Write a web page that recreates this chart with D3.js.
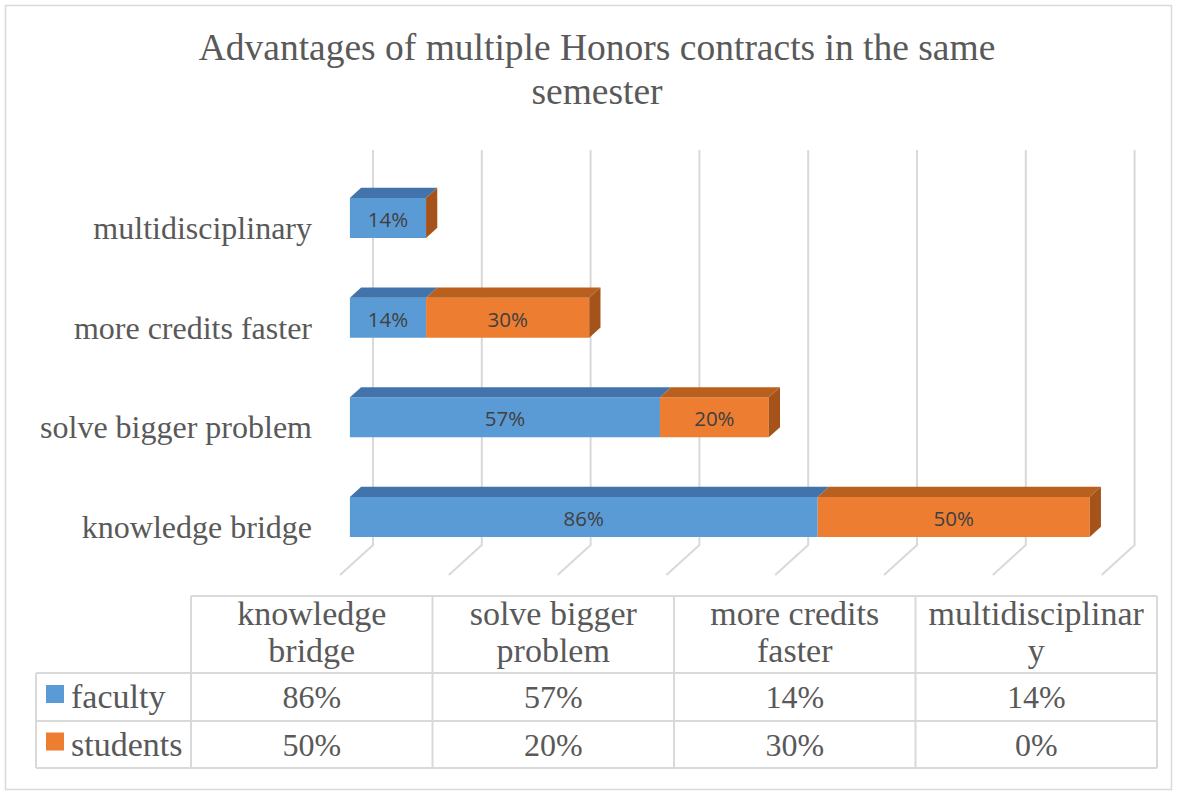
<!DOCTYPE html>
<html><head><meta charset="utf-8">
<script src="https://cdn.jsdelivr.net/npm/d3@7"></script>
<style>html,body{margin:0;padding:0;background:#fff;}svg{display:block;}</style>
</head><body>
<svg id="c" width="1177" height="793"></svg>
<script>
const title = ["Advantages of multiple Honors contracts in the same", "semester"];
const categories = ["knowledge bridge", "solve bigger problem", "more credits faster", "multidisciplinary"];
const seriesNames = ["faculty", "students"];
const faculty = [86, 57, 14, 14];
const students = [50, 20, 30, 0];
const tickValues = [0, 20, 40, 60, 80, 100, 120, 140];
const headerLines = [["knowledge", "bridge"], ["solve bigger", "problem"], ["more credits", "faster"], ["multidisciplinar", "y"]];

const colors = {front: ["#5B9BD5", "#ED7D31"], top: ["#4274AB", "#B9601F"], side: ["#3E6A9A", "#A5531B"]};
const textCol = "#595959";
const serif = "'Liberation Serif','Times New Roman',serif";

const svg = d3.select("#c");
svg.append("rect").attr("x", 5.5).attr("y", 5.5).attr("width", 1166).attr("height", 784)
  .attr("fill", "#fff").attr("stroke", "#d9d9d9").attr("stroke-width", 1.5);

// title
svg.append("text").attr("x", 597).attr("y", 60).attr("text-anchor", "middle")
  .attr("font-family", serif).attr("font-size", 37.5).attr("fill", textCol)
  .selectAll("tspan").data(title).join("tspan")
  .attr("x", 597).attr("dy", (d, i) => i === 0 ? 0 : 44).text(d => d);

// 3D geometry
const x = d3.scaleLinear().domain([0, 140]).range([340, 340 + 140 * 5.44]);
const depth = {dx: 33, dy: -30};
const P = (v, y, d) => [x(v) + d * depth.dx, y + d * depth.dy];
const yc = d3.scalePoint().domain(categories.slice().reverse()).range([218, 517]);
const barH = 40;
const dFront = 0.3, dBack = 0.64;
const floorY = 575, wallTop = 150;

// gridlines
const grid = svg.append("g").attr("stroke", "#d9d9d9").attr("stroke-width", 2).attr("fill", "none");
tickValues.forEach(t => {
  const b = P(t, floorY, 1), f = P(t, floorY, 0);
  grid.append("path").attr("d", `M${b[0]},${wallTop}L${b[0]},${b[1]}L${f[0]},${f[1]}`);
});

// bars
const poly = pts => "M" + pts.map(p => p.join(",")).join("L") + "Z";
const gBars = svg.append("g");
categories.forEach((cat, i) => {
  const vals = [faculty[i], students[i]];
  const cy = yc(cat);
  const fy0 = cy - barH / 2, fy1 = cy + barH / 2;
  const ddx = (dBack - dFront) * depth.dx, ddy = (dBack - dFront) * depth.dy;
  let start = 0;
  vals.forEach((v, s) => {
    const end = start + v;
    const fx0 = x(start) + dFront * depth.dx, fx1 = x(end) + dFront * depth.dx;
    if (v > 0) {
      gBars.append("path").attr("d", poly([[fx0, fy0], [fx1, fy0], [fx1, fy1], [fx0, fy1]])).attr("fill", colors.front[s]);
      gBars.append("path").attr("d", poly([[fx0, fy0], [fx0 + ddx, fy0 + ddy], [fx1 + ddx, fy0 + ddy], [fx1, fy0]])).attr("fill", colors.top[s]);
      gBars.append("text").attr("x", (fx0 + fx1) / 2).attr("y", cy + 1)
        .attr("text-anchor", "middle").attr("dominant-baseline", "central")
        .attr("font-family", "'Open Sans','Noto Sans',sans-serif").attr("font-size", 20.5).attr("fill", "#404040")
        .text(v + "%");
    }
    start = end;
  });
  const ex = x(start) + dFront * depth.dx;
  gBars.append("path").attr("d", poly([[ex, fy0], [ex + ddx, fy0 + ddy], [ex + ddx, fy1 + ddy], [ex, fy1]])).attr("fill", colors.side[1]);
  svg.append("text").attr("x", 312).attr("y", cy + 10).attr("text-anchor", "end")
    .attr("dominant-baseline", "central").attr("font-family", serif).attr("font-size", 32).attr("fill", textCol).text(cat);
});

// data table
const colX = d3.scaleLinear().domain([0, 4]).range([191, 1157]);
const rowY = [596, 673, 721, 768];
const legX0 = 36;
const tbl = svg.append("g").attr("stroke", "#d9d9d9").attr("stroke-width", 2).attr("fill", "none");
tbl.append("path").attr("d", `M${colX(0)},${rowY[0]}H${colX(4)}`);
[1, 2, 3].forEach(r => tbl.append("path").attr("d", `M${legX0},${rowY[r]}H${colX(4)}`));
tbl.append("path").attr("d", `M${legX0},${rowY[1]}V${rowY[3]}`);
d3.range(5).forEach(c => tbl.append("path").attr("d", `M${colX(c)},${rowY[0]}V${rowY[3]}`));

const tf = svg.append("g").attr("font-family", serif).attr("fill", textCol).attr("text-anchor", "middle");
headerLines.forEach((lines, c) => {
  const cx = (colX(c) + colX(c + 1)) / 2;
  lines.forEach((ln, k) => tf.append("text").attr("x", cx).attr("y", 625 + k * 37).attr("font-size", 34).text(ln));
});
const rowsData = [faculty, students];
rowsData.forEach((vals, r) => {
  const base = rowY[r + 1] + (rowY[r + 2] - rowY[r + 1]) / 2 + 11;
  vals.forEach((v, c) => {
    tf.append("text").attr("x", (colX(c) + colX(c + 1)) / 2).attr("y", base).attr("font-size", 32).text(v + "%");
  });
  svg.append("rect").attr("x", 46).attr("y", base - 23).attr("width", 18).attr("height", 18).attr("fill", colors.front[r]);
  svg.append("text").attr("x", 71).attr("y", base).attr("font-family", serif).attr("font-size", 34).attr("fill", textCol).text(seriesNames[r]);
});
</script>
</body></html>
